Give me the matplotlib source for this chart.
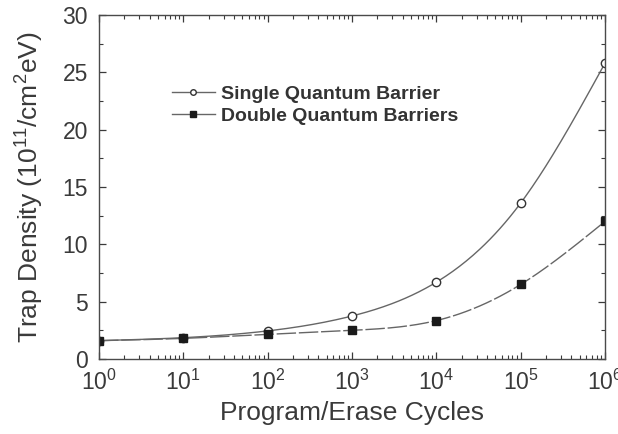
import numpy as np
import matplotlib
matplotlib.use("Agg")
import matplotlib.pyplot as plt
from matplotlib.ticker import LogLocator, MultipleLocator, NullFormatter
from matplotlib.lines import Line2D

plt.rcParams['font.family'] = ['Liberation Sans', 'DejaVu Sans']
plt.rcParams['mathtext.fontset'] = 'custom'
plt.rcParams['mathtext.rm'] = 'Liberation Sans'
plt.rcParams['mathtext.default'] = 'regular'

cycles = [1, 10, 100, 1000, 1e4, 1e5, 1e6]
single = [1.6, 1.86, 2.45, 3.75, 6.7, 13.6, 25.8]
double = [1.6, 1.8, 2.15, 2.5, 3.35, 6.5, 12.0]
labels = ['Single Quantum Barrier', 'Double Quantum Barriers']

def smooth(x, y, n=300):
    lx = np.log10(np.asarray(x, float))
    yy = np.asarray(y, float)
    # natural cubic spline in log10(x)
    h = np.diff(lx)
    m = len(lx)
    A = np.zeros((m, m)); b = np.zeros(m)
    A[0, 0] = 1; A[-1, -1] = 1
    for i in range(1, m - 1):
        A[i, i - 1] = h[i - 1]; A[i, i] = 2 * (h[i - 1] + h[i]); A[i, i + 1] = h[i]
        b[i] = 3 * ((yy[i + 1] - yy[i]) / h[i] - (yy[i] - yy[i - 1]) / h[i - 1])
    c = np.linalg.solve(A, b)
    xs = np.linspace(lx[0], lx[-1], n)
    ys = np.empty_like(xs)
    for k, xv in enumerate(xs):
        i = min(np.searchsorted(lx, xv, side='right') - 1, m - 2)
        d = xv - lx[i]
        bi = (yy[i + 1] - yy[i]) / h[i] - h[i] * (2 * c[i] + c[i + 1]) / 3
        di = (c[i + 1] - c[i]) / (3 * h[i])
        ys[k] = yy[i] + bi * d + c[i] * d ** 2 + di * d ** 3
    return 10 ** xs, ys

fig = plt.figure(figsize=(6.18, 4.34), dpi=100)
ax = fig.add_axes([99 / 618, 1 - 359 / 434, (605 - 99) / 618, (359 - 15) / 434])

lc = '#666666'
xs, ys = smooth(cycles, single)
ax.plot(xs, ys, color=lc, lw=1.0)
xd, yd = smooth(cycles, double)
ax.plot(xd, yd, color=lc, lw=1.0, dashes=(14, 2))
ax.plot(cycles, single, 'o', mfc='white', mec='#333333', ms=6, mew=1.0)
ax.plot(cycles, double, 's', mfc='#1a1a1a', mec='#1a1a1a', ms=5.8)

ax.set_xscale('log')
ax.set_xlim(1, 1e6)
ax.set_ylim(0, 30)
ax.yaxis.set_major_locator(MultipleLocator(5))
ax.yaxis.set_minor_locator(MultipleLocator(2.5))
ax.xaxis.set_major_locator(LogLocator(base=10, numticks=10))
ax.xaxis.set_minor_locator(LogLocator(base=10, subs=np.arange(2, 10), numticks=10))
ax.xaxis.set_minor_formatter(NullFormatter())

tc = '#3a3a3a'
ax.tick_params(which='both', direction='in', top=True, right=True, colors=tc,
               labelsize=16.5, labelcolor=tc)
ax.tick_params(which='major', length=5, width=0.9)
ax.tick_params(which='minor', length=3, width=0.8)
ax.tick_params(axis='x', pad=8)
ax.tick_params(axis='y', pad=8)
for s in ax.spines.values():
    s.set_color('#4a4a4a'); s.set_linewidth(1.0)

ax.set_xlabel('Program/Erase Cycles', fontsize=19, color=tc, labelpad=4)
ax.set_ylabel('Trap Density (10$^{11}$/cm$^{2}$eV)', fontsize=19, color=tc, labelpad=12)

h1 = Line2D([], [], color=lc, lw=1.0, marker='o', mfc='white', mec='#333333', ms=4)
h2 = Line2D([], [], color=lc, lw=1.0, marker='s', mfc='#1a1a1a', mec='#1a1a1a', ms=3.8)
leg = ax.legend([h1, h2], labels, loc='upper left',
                bbox_to_anchor=((172 - 99) / 506, (359 - 85) / 344),
                frameon=False, prop={'weight': 'bold', 'size': 14}, handlelength=2.2,
                handletextpad=0.3, labelspacing=0.25, borderaxespad=0, borderpad=0)
for t in leg.get_texts():
    t.set_color('#333333')

fig.savefig('out.png', dpi=100)
